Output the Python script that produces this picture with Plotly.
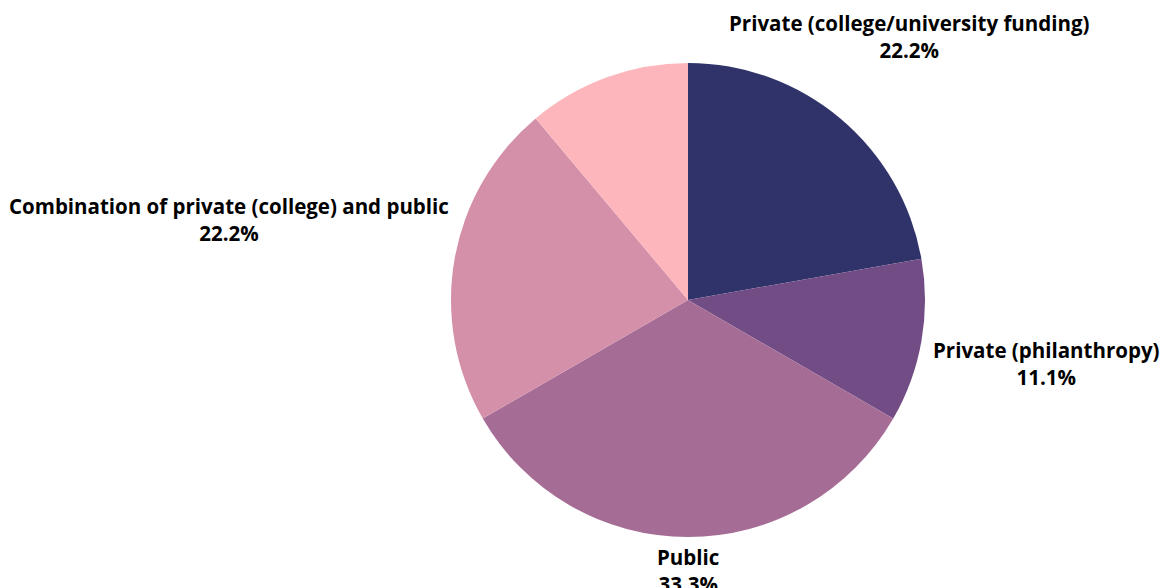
import numpy as np
import plotly.graph_objects as go

labels = [
    "Private (college/university funding)",
    "Private (philanthropy)",
    "Public",
    "Combination of private (college) and public",
    "Other",
]
values = [2, 1, 3, 2, 1]
colors = ["#2f3369", "#714c85", "#a56c96", "#d48fa9", "#fdb7bc"]
show_label = [True, True, True, True, False]

# layout: radial distance (px) of each label centre from the pie centre
label_dist = [344, 364, 270, 466, 0]

PLOT_PX = 474  # square plot area, pie radius = PLOT_PX/2

fig = go.Figure(
    go.Pie(
        labels=labels,
        values=values,
        sort=False,
        direction="clockwise",
        rotation=0,
        marker=dict(colors=colors, line=dict(width=0)),
        textinfo="none",
        showlegend=False,
        hoverinfo="label+percent",
    )
)

vals = np.array(values, dtype=float)
total = vals.sum()
cum = np.cumsum(vals) - vals / 2
mid_angle = cum / total * 2 * np.pi  # clockwise from 12 o'clock

annotations = []
for lab, v, ang, d, show in zip(labels, vals, mid_angle, label_dist, show_label):
    if not show:
        continue
    x = 0.5 + d * np.sin(ang) / PLOT_PX
    y = 0.5 + d * np.cos(ang) / PLOT_PX
    annotations.append(
        dict(
            x=x,
            y=y,
            xref="paper",
            yref="paper",
            xanchor="center",
            yanchor="middle",
            align="center",
            showarrow=False,
            text=f"<b>{lab}</b><br><b>{v / total * 100:.1f}%</b>",
            font=dict(family="Open Sans", size=20.5, color="#000000"),
        )
    )

fig.update_layout(
    width=1160,
    height=588,
    margin=dict(l=451, r=235, t=63, b=51),
    paper_bgcolor="white",
    plot_bgcolor="white",
    annotations=annotations,
)

fig.write_html("out.html")
